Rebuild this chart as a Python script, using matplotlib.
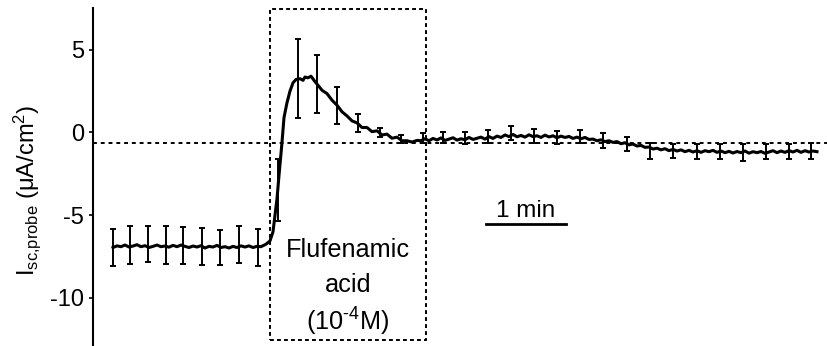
import matplotlib
matplotlib.use("Agg")
import matplotlib.pyplot as plt
from matplotlib.patches import Rectangle

plt.rcParams['font.family'] = ['Liberation Sans', 'DejaVu Sans']
plt.rcParams['mathtext.fontset'] = 'custom'
plt.rcParams['mathtext.rm'] = 'Liberation Sans'
plt.rcParams['mathtext.it'] = 'Liberation Sans:italic'
plt.rcParams['mathtext.default'] = 'regular'

# trace, time in seconds, current in uA/cm2
t_base = [0, 3, 6, 9, 12, 15, 18, 21, 24, 27, 30, 33, 36, 39, 42, 45, 48, 51, 54, 57,
          60, 63, 66, 69, 72, 75, 78, 81, 84, 87, 90, 93, 96, 99, 102, 105, 108, 111]
i_base = [-6.95, -6.85, -6.9, -6.8, -6.92, -6.86, -6.78, -6.9, -6.84, -6.95, -6.88, -6.8,
          -6.9, -6.86, -6.93, -6.82, -6.9, -6.8, -6.88, -6.95, -6.86, -6.92, -6.84, -6.98,
          -6.88, -6.92, -6.82, -6.95, -6.9, -6.98, -6.88, -6.95, -6.85, -6.92, -6.85, -6.95,
          -6.88, -6.9]

t_drug = [114.75, 117.75, 120, 121.5, 123, 124.5, 126.75, 128.25, 130.5, 132.75, 135,
          137.25, 140.25, 142.5, 144, 146.25, 148.5, 150.75, 153.75, 156.75, 160.5, 164.25,
          168, 171.75, 175.5, 179.25, 183, 186.75, 190.5, 194.25, 198, 201.75, 205.5,
          209.25, 213, 216.75, 220.5, 224.25, 228, 231]
i_drug = [-6.75, -6.55, -6.0, -5.0, -4.0, -2.6, -0.6, 0.9, 1.8, 2.5, 3.0,
          3.2, 3.25, 3.15, 3.35, 3.3, 3.4, 3.15, 2.85, 2.55, 2.35, 1.95,
          1.65, 1.25, 1.0, 0.7, 0.58, 0.3, 0.3, 0.05, 0.1, -0.15, -0.1,
          -0.35, -0.28, -0.5, -0.5, -0.58, -0.48, -0.5]

t_wash = [234, 237, 240, 243, 246, 249, 252, 255, 258, 261, 264, 267, 270, 273, 276, 279,
          282, 285, 288, 291, 294, 297, 300, 303, 306, 309, 312, 315, 318, 321, 324, 327,
          330, 333, 336, 339, 342, 345, 348, 351, 354, 357, 360, 363, 366, 369, 372, 375,
          378, 381, 384, 387, 390, 393, 396, 399, 402, 405, 408, 411, 414, 417, 420, 423,
          426, 429, 432, 435, 438, 441, 444, 447, 450, 453, 456, 459, 462, 465, 468, 471,
          474, 477, 480, 483, 486, 489, 492, 495, 498, 501, 504, 507, 510, 513, 516, 519,
          522, 525, 528]
i_wash = [-0.38, -0.5, -0.36, -0.45, -0.33, -0.48, -0.4, -0.32, -0.46, -0.38, -0.44, -0.3,
          -0.42, -0.35, -0.28, -0.4, -0.25, -0.36, -0.22, -0.3, -0.15, -0.25, -0.12, -0.26,
          -0.18, -0.28, -0.14, -0.25, -0.2, -0.3, -0.16, -0.27, -0.2, -0.32, -0.22, -0.3,
          -0.24, -0.36, -0.28, -0.38, -0.3, -0.42, -0.4, -0.5, -0.44, -0.55, -0.5, -0.6,
          -0.55, -0.68, -0.62, -0.75, -0.7, -0.82, -0.78, -0.9, -0.88, -1.0, -0.95, -1.05,
          -0.98, -1.1, -1.02, -1.12, -1.05, -1.16, -1.08, -1.18, -1.1, -1.2, -1.1, -1.16,
          -1.08, -1.2, -1.12, -1.22, -1.14, -1.24, -1.15, -1.22, -1.12, -1.25, -1.16, -1.22,
          -1.15, -1.26, -1.18, -1.1, -1.22, -1.12, -1.2, -1.1, -1.18, -1.08, -1.2, -1.1,
          -1.18, -1.12, -1.16]

# error bars (mean +/- SEM)
t_err = [0, 12.75, 26.25, 39.75, 52.5, 66.75, 80.25, 94.5, 108.75,
         123.75, 138.75, 153, 168, 183.75, 200.25, 216, 232.5,
         247.5, 264, 281.25, 298.5, 315.75, 333, 350.25, 367.5, 385.5,
         402.75, 420, 438, 455.25, 472.5, 489.75, 507, 523.5]
m_err = [-6.95, -6.78, -6.75, -6.78, -6.85, -6.9, -6.95, -6.78, -6.95,
         -3.5, 3.25, 2.92, 1.64, 0.58, 0.0, -0.4, -0.35,
         -0.3, -0.35, -0.25, -0.05, -0.23, -0.3, -0.26, -0.48, -0.68,
         -1.1, -1.12, -1.14, -1.16, -1.2, -1.16, -1.14, -1.12]
e_err = [1.13, 1.14, 1.1, 1.14, 1.12, 1.1, 1.06, 1.1, 1.1,
         1.87, 2.4, 1.76, 1.13, 0.53, 0.3, 0.25, 0.3,
         0.35, 0.35, 0.4, 0.42, 0.42, 0.38, 0.38, 0.45, 0.42,
         0.48, 0.45, 0.45, 0.47, 0.5, 0.45, 0.47, 0.5]

drug_on, drug_off = 117.75, 234.75
ref_level = -0.65

fig = plt.figure(figsize=(8.27, 3.46), dpi=100)
ax = fig.add_axes([93 / 827, 0, 734 / 827, 1 - 8 / 346])

ax.plot(t_base + t_drug + t_wash, i_base + i_drug + i_wash, color='black', lw=2.2)
ax.errorbar(t_err, m_err, yerr=e_err, fmt='none', ecolor='black',
            elinewidth=1.4, capsize=2.5, capthick=1.4)

ax.axhline(ref_level, color='black', lw=1.4, ls=(0, (2, 2)))
ax.add_patch(Rectangle((drug_on, -12.54), drug_off - drug_on, 20.0, fill=False,
                       ec='black', lw=1.4, ls=(0, (2, 1.6))))

# 1 min scale bar
ax.plot([279.75, 339.75], [-5.55, -5.55], color='black', lw=2)
ax.text(309.75, -4.75, '1 min', ha='center', va='center', fontsize=17.5)

ax.text(176.25, -7.1, 'Flufenamic', ha='center', va='center', fontsize=18.2)
ax.text(176.25, -9.2, 'acid', ha='center', va='center', fontsize=18.2)
ax.text(176.25, -11.45, '(10$^{\u20104}$M)', ha='center', va='center', fontsize=18.2)

ax.set_xlim(-15, 535.5)
ax.set_ylim(-12.9, 7.52)
ax.set_yticks([5, 0, -5, -10])
ax.set_yticklabels(['5', '0', '-5', '-10'], fontsize=17)
ax.set_xticks([])
for s in ['top', 'right', 'bottom']:
    ax.spines[s].set_visible(False)
ax.spines['left'].set_linewidth(1.5)
ax.tick_params(axis='y', length=3, width=1.2, pad=3.5)
ax.set_ylabel('I$_{sc{,}probe}$ (μA/cm$^{2}$)', fontsize=17)
ax.yaxis.set_label_coords(-0.068, 0.46)

fig.savefig('out.png', dpi=100)
